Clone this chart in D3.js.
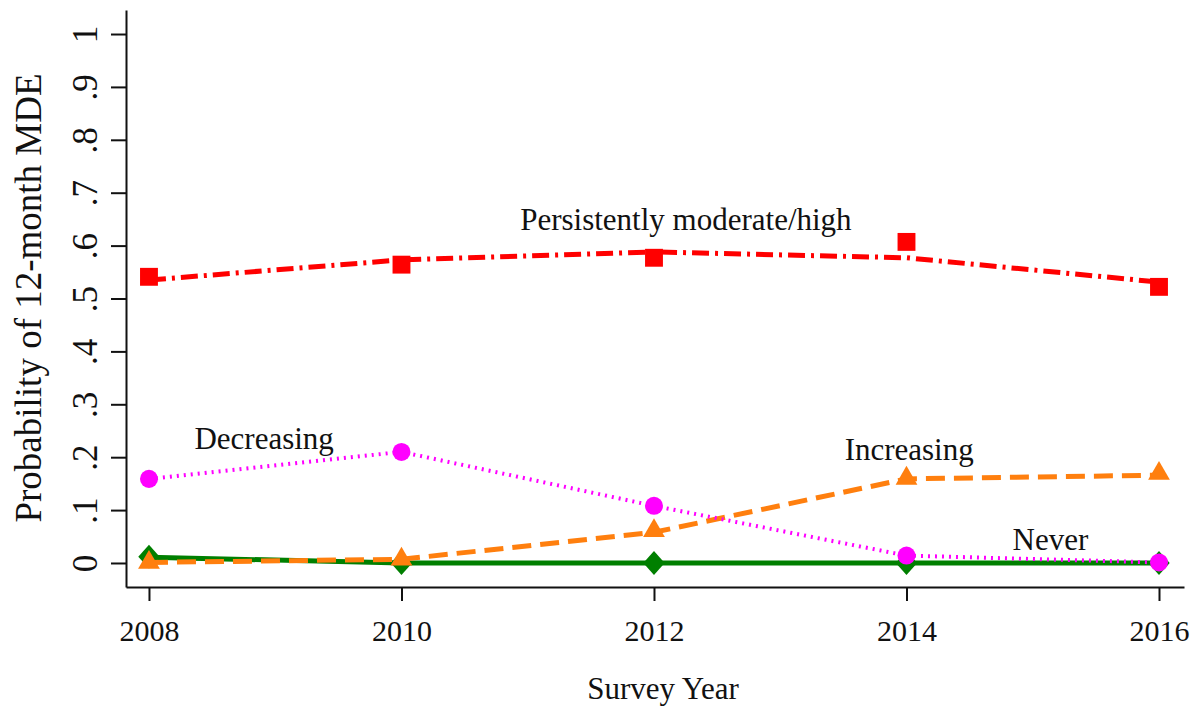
<!DOCTYPE html>
<html>
<head>
<meta charset="utf-8">
<script src="https://cdn.jsdelivr.net/npm/d3@7"></script>
<style>
  body { margin: 0; background: #fff; }
  text { font-family: "Liberation Serif", "Times New Roman", serif; fill: #111; }
</style>
</head>
<body>
<div id="chart"></div>
<script>
const years = [2008, 2010, 2012, 2014, 2016];
const yTicks = [0, 0.1, 0.2, 0.3, 0.4, 0.5, 0.6, 0.7, 0.8, 0.9, 1];

// observed points (markers) and fitted trajectories (lines)
const persistentObs = [0.541, 0.564, 0.577, 0.607, 0.522];
const persistentFit = [0.535, 0.573, 0.588, 0.577, 0.531];
const decreasingObs = [0.159, 0.210, 0.108, 0.014, 0.001];
const decreasingFit = [0.159, 0.210, 0.108, 0.014, 0.001];
const increasingObs = [0.001, 0.007, 0.061, 0.160, 0.169];
const increasingFit = [0.001, 0.007, 0.058, 0.159, 0.166];
const neverObs = [0.012, 0.000, 0.000, 0.000, 0.000];
const neverFit = [0.011, 0.000, 0.000, 0.000, 0.000];

const labels = [
    { text: 'Persistently moderate/high', year: 2010.94, value: 0.630 },
    { text: 'Decreasing', year: 2008.36, value: 0.215 },
    { text: 'Increasing', year: 2013.51, value: 0.194 },
    { text: 'Never', year: 2014.84, value: 0.025 }
];

const width = 1201, height = 711;

const svg = d3.select('#chart').append('svg')
    .attr('width', width)
    .attr('height', height);

const x = d3.scaleLinear().domain([2007.818, 2016.198]).range([126, 1184]);
const y = d3.scaleLinear().domain([-0.0454, 1.0454]).range([587, 10]);

// axes
const yAxis = svg.append('g')
    .attr('transform', 'translate(126,0)')
    .call(d3.axisLeft(y).tickValues(yTicks).tickSize(15).tickSizeOuter(0)
        .tickFormat(d => d === 0 ? '0' : d === 1 ? '1' : d3.format('.1f')(d).replace('0.', '.')));
yAxis.selectAll('text')
    .attr('x', 0)
    .attr('y', -29)
    .attr('dy', null)
    .attr('transform', 'rotate(-90)')
    .attr('text-anchor', 'middle')
    .attr('font-size', '35px');

const xAxis = svg.append('g')
    .attr('transform', 'translate(0,587)')
    .call(d3.axisBottom(x).tickValues(years).tickSize(14).tickSizeOuter(0).tickFormat(d3.format('d')));
xAxis.selectAll('text')
    .attr('y', 54)
    .attr('dy', null)
    .attr('font-size', '30px');

svg.selectAll('.domain, .tick line')
    .attr('stroke', '#111')
    .attr('stroke-width', 2);
svg.selectAll('.tick text').attr('fill', '#111');

svg.append('text')
    .attr('transform', 'translate(41,298) rotate(-90)')
    .attr('text-anchor', 'middle')
    .attr('font-size', '37px')
    .text('Probability of 12-month MDE');

svg.append('text')
    .attr('x', 663)
    .attr('y', 699)
    .attr('text-anchor', 'middle')
    .attr('font-size', '31px')
    .text('Survey Year');

const line = d3.line()
    .x(d => x(d.year))
    .y(d => y(d.value));

const pts = vals => years.map((yr, i) => ({ year: yr, value: vals[i] }));

const series = [
    { fit: neverFit, obs: neverObs, color: '#007f00', width: 5, dash: null, marker: d3.symbolDiamond, size: 165, squash: [1.55, 1] },
    { fit: increasingFit, obs: increasingObs, color: '#ff7f0e', width: 5, dash: '19,9', marker: d3.symbolTriangle, size: 205, squash: [1, 1] },
    { fit: decreasingFit, obs: decreasingObs, color: '#ff00ff', width: 4, dash: '2,5', marker: d3.symbolCircle, size: 255, squash: [1, 1] },
    { fit: persistentFit, obs: persistentObs, color: '#ff0000', width: 5, dash: '17,6,3,6', marker: d3.symbolSquare, size: 320, squash: [1, 1] }
];

series.forEach(s => {
    svg.append('path')
        .datum(pts(s.fit))
        .attr('fill', 'none')
        .attr('stroke', s.color)
        .attr('stroke-width', s.width)
        .attr('stroke-dasharray', s.dash)
        .attr('d', line);

    svg.append('g')
        .selectAll('path')
        .data(pts(s.obs))
        .enter()
        .append('path')
        .attr('transform', d => `translate(${x(d.year)},${y(d.value)}) scale(${s.squash[0]},${s.squash[1]})`)
        .attr('fill', s.color)
        .attr('d', d3.symbol().type(s.marker).size(s.size));
});

svg.append('g')
    .selectAll('text')
    .data(labels)
    .enter()
    .append('text')
    .attr('x', d => x(d.year))
    .attr('y', d => y(d.value))
    .attr('font-size', '31px')
    .text(d => d.text);
</script>
</body>
</html>
